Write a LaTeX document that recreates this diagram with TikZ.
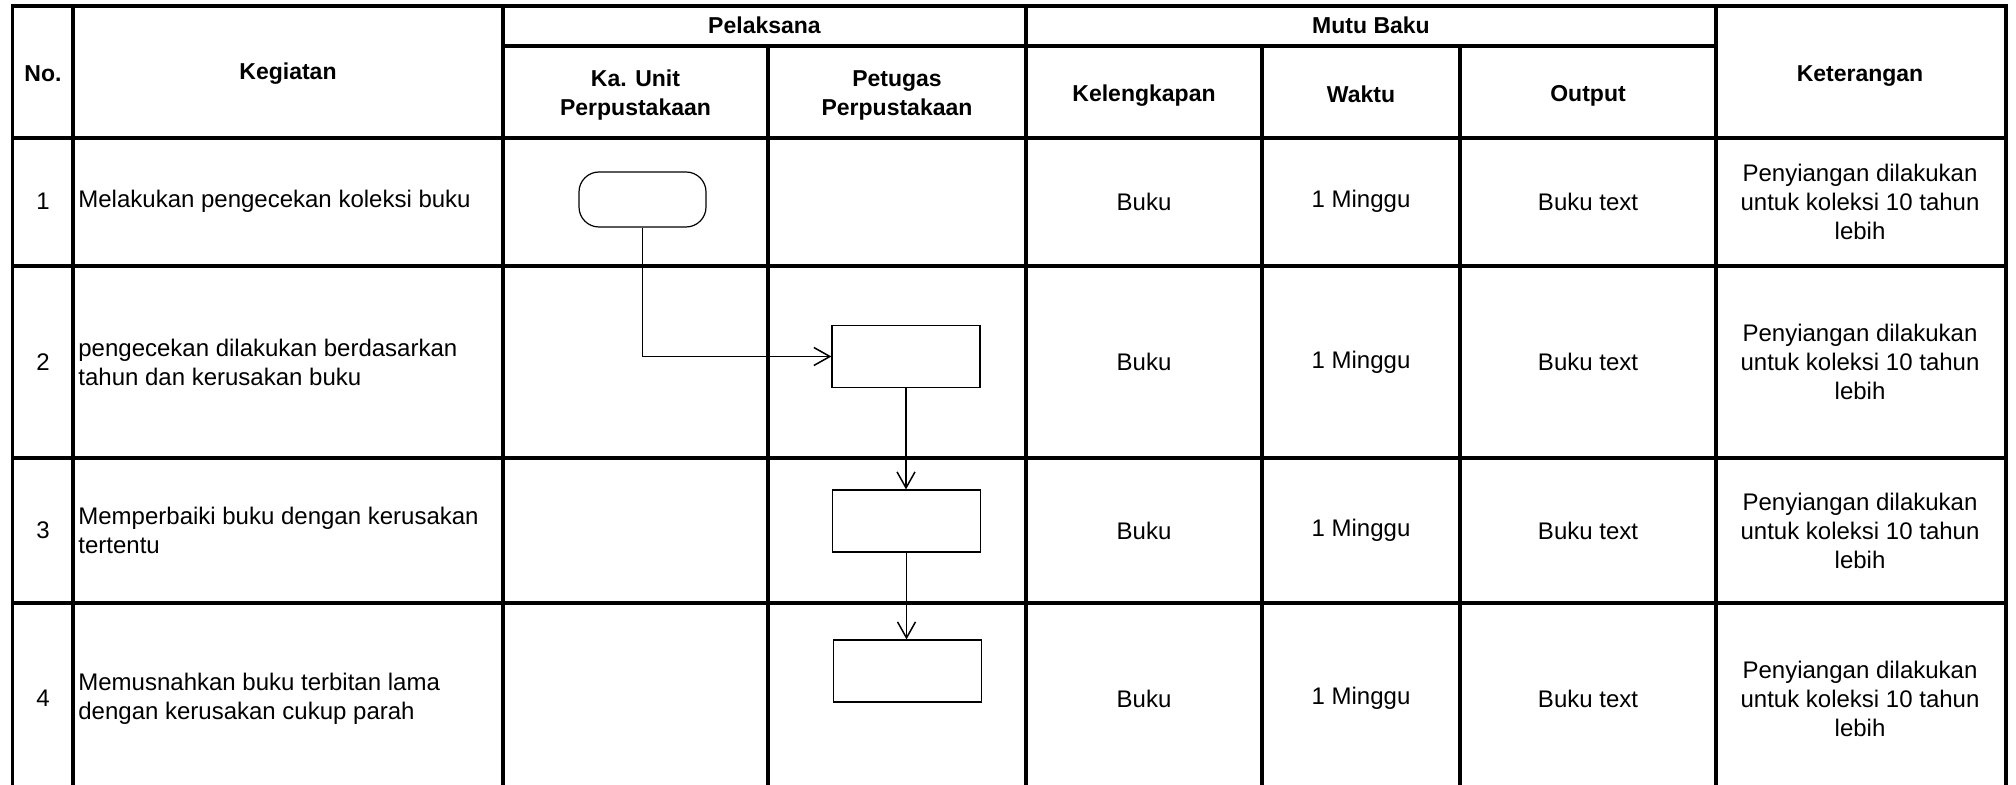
\documentclass[tikz,border=0pt]{standalone}
\usepackage{fontspec}
\setmainfont{Liberation Sans}
\usetikzlibrary{arrows.meta}
\begin{document}
\begin{tikzpicture}[x=0.5pt,y=-0.5pt,
  grid/.style={line width=1.6pt, line join=miter},
  hdr/.style={font=\fontsize{11.5}{14.5}\selectfont\bfseries, align=center, inner sep=0pt},
  cell/.style={font=\fontsize{12}{14.5}\selectfont, align=center, inner sep=0pt},
  lcell/.style={font=\fontsize{12}{14.5}\selectfont, align=left, anchor=west, inner sep=0pt},
  procbox/.style={draw, line width=0.6pt, minimum width=74pt, minimum height=31pt, inner sep=0pt},
  termbox/.style={draw, line width=0.6pt, rounded corners=10pt, minimum width=63.5pt, minimum height=27.5pt, inner sep=0pt},
  flow/.style={line width=0.65pt, -{Straight Barb[length=8pt,width=9pt,line width=0.75pt]}}]
\useasboundingbox (0,0) rectangle (2016,785);
% table grid
\draw[grid] (12.5,785) -- (12.5,6) -- (2006,6) -- (2006,785);
\foreach \x in {73,503,1026,1716} \draw[grid] (\x,6) -- (\x,785);
\foreach \x in {768,1262,1460} \draw[grid] (\x,46) -- (\x,785);
\draw[grid] (503,46) -- (1716,46);
\foreach \y in {138,266,458,603} \draw[grid] (12.5,\y) -- (2006,\y);
% header
\node[hdr] (hno) at (43,74) {No.};
\node[hdr] (hkeg) at (288,74) {Kegiatan};
\node[hdr] (hpel) at (764.5,25.5) {Pelaksana};
\node[hdr] (hmutu) at (1371,25.5) {Mutu Baku};
\node[hdr] (hka) at (635.5,95.5) {Ka. Unit\\Perpustakaan};
\node[hdr] (hpet) at (897,95.5) {Petugas\\Perpustakaan};
\node[hdr] (hkel) at (1144,95.5) {Kelengkapan};
\node[hdr] (hwak) at (1361,94) {Waktu};
\node[hdr] (hout) at (1588,95.5) {Output};
\node[hdr] (hket) at (1860,76.5) {Keterangan};
% rows
\foreach \i/\y/\txt in {1/201.5/{Melakukan pengecekan koleksi buku},
                        2/362/{pengecekan dilakukan berdasarkan\\tahun dan kerusakan buku},
                        3/530.5/{Memperbaiki buku dengan kerusakan\\tertentu},
                        4/698.5/{Memusnahkan buku terbitan lama\\dengan kerusakan cukup parah}} {
  \node[cell] (no\i) at (43,\y) {\i};
  \node[lcell] (keg\i) at (78,\y) {\txt};
  \node[cell] (kel\i) at (1144,\y) {Buku};
  \node[cell] (wak\i) at (1361,\y) {1 Minggu};
  \node[cell] (out\i) at (1588,\y) {Buku text};
  \node[cell] (ket\i) at (1860,\y) {Penyiangan dilakukan\\untuk koleksi 10 tahun\\lebih};
}
% flow shapes
\node[termbox] (t1) at (642.5,199.5) {};
\node[procbox] (b2) at (906,356.5) {};
\node[procbox] (b3) at (906.5,521) {};
\node[procbox] (b4) at (907.5,671) {};
\draw[flow] (t1.south) |- (b2.west);
\draw[flow] (b2.south) -- (b2.south |- b3.north);
\draw[flow] (b3.south) -- (b3.south |- b4.north);
\end{tikzpicture}
\end{document}
